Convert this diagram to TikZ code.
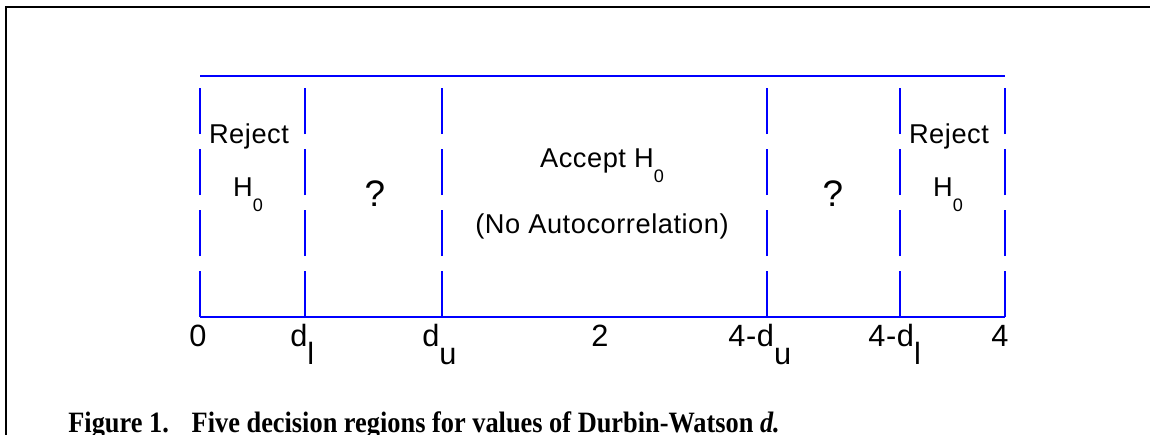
\documentclass[tikz,border=0pt]{standalone}
\usepackage{fontspec}
\setmainfont{Liberation Serif}
\setsansfont{Liberation Sans}[LetterSpace=2]
\newcommand{\lowsub}[2]{\raisebox{-#1}{#2}}

\begin{document}
\begin{tikzpicture}[x=0.02cm,y=-0.02cm,
    frame/.style={line width=1.2pt,black},
    bar/.style={line width=0.6pt,blue},
    divider/.style={bar,dash pattern=on 26.2pt off 8.5pt},
    lbl/.style={font=\sffamily\fontsize{15.5}{18}\selectfont,inner sep=0pt,anchor=base},
    qmark/.style={font=\sffamily\fontsize{21}{25}\selectfont,inner sep=0pt,anchor=base},
    axlbl/.style={font=\sffamily\fontsize{17.5}{20}\selectfont,inner sep=0pt,anchor=base west},
    capt/.style={font=\bfseries\fontsize{15}{18}\selectfont,inner sep=0pt,anchor=base west}]
    \def\h{230}
    \def\hsub{\lowsub{8.5pt}{\fontsize{10.3}{12}\selectfont 0}}

    \useasboundingbox (0,0) rectangle (1150,435);
    \draw[frame] (6,435) -- (6,7) -- (1150,7);

    % tick points on the axis
    \foreach \name/\xx in {t0/200,tdl/305,tdu/442,t4du/767,t4dl/900,t4/1005}
        \coordinate (\name) at (\xx,317);
    \coordinate (top0) at (200,76);
    \coordinate (top4) at (1005,76);

    \draw[bar] (top0) -- (top4);
    \draw[bar] (t0) -- (t4);
    \foreach \t in {t0,tdl,tdu,t4du,t4dl,t4}
        \draw[divider] (\t) -- ++(0,-\h);

    % regions
    \node[lbl] (rejl) at (249,144) {Reject};
    \node[lbl] (rejhl) at (248,197) {H\hsub};
    \node[qmark] (ql) at (375,207) {?};
    \node[lbl] (acc) at (602,168) {Accept H\hsub};
    \node[lbl] (noauto) at (602,234) {(No Autocorrelation)};
    \node[qmark] (qr) at (833,207) {?};
    \node[lbl] (rejr) at (949,144) {Reject};
    \node[lbl] (rejhr) at (948,197) {H\hsub};

    % axis labels
    \node[axlbl] (lab0) at (189,347) {0};
    \node[axlbl] (labdl) at (290,347) {d\lowsub{9.7pt}{l}};
    \node[axlbl] (labdu) at (422,347) {d\lowsub{9.7pt}{u}};
    \node[axlbl] (lab2) at (591,347) {2};
    \node[axlbl] (lab4du) at (728,347) {4-d\lowsub{9.7pt}{u}};
    \node[axlbl] (lab4dl) at (868,347) {4-d\lowsub{9.7pt}{l}};
    \node[axlbl] (lab4) at (991,347) {4};

    \node[capt] (cap) at (68,433)
        {\scalebox{1}[1.12]{Figure 1.\hspace{13pt}Five decision regions for values of Durbin-Watson \textit{d.}}};
\end{tikzpicture}
\end{document}
